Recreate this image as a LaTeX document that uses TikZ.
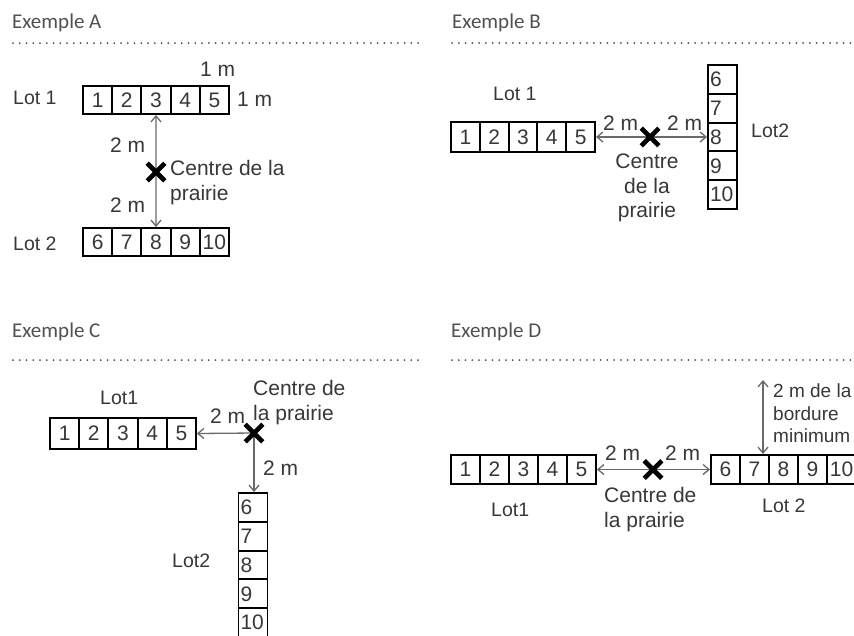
\documentclass[tikz,border=0pt]{standalone}
\usepackage{fontspec}
\setmainfont{Liberation Sans}
\newfontfamily\hdfont{Carlito}
\usetikzlibrary{arrows.meta,shapes.misc}
\definecolor{txt}{HTML}{383838}
\definecolor{arrc}{HTML}{6A6A6A}
\definecolor{hdc}{HTML}{505050}
\begin{document}
\begin{tikzpicture}[x=1pt,y=-1pt,
 cell/.style={draw=black,line width=1.9pt,minimum width=29pt,minimum height=29pt,inner sep=0pt,font=\fontsize{21}{21}\selectfont,text=txt},
 vcell/.style={cell,text width=25pt,inner xsep=2pt,align=left},
 lbl/.style={anchor=base west,inner sep=0pt,font=\fontsize{21}{24}\selectfont,text=txt},
 lotlbl/.style={lbl,font=\fontsize{19.5}{22}\selectfont},
 clbl/.style={anchor=base,inner sep=0pt,font=\fontsize{21}{24}\selectfont,text=txt},
 hd/.style={anchor=base west,inner sep=0pt,font=\hdfont\fontsize{21}{23}\selectfont,text=hdc},
 arr/.style={draw=arrc,line width=1.3pt,{Straight Barb[length=6pt,width=10pt]}-{Straight Barb[length=6pt,width=10pt]}},
 xmark/.style={cross out,draw=black,line width=4.6pt,minimum size=13pt,inner sep=0pt},
 dotline/.style={draw=hdc,line width=2pt,line cap=round,dash pattern=on 0pt off 6.75pt}]
\useasboundingbox (0,0) rectangle (854,635);
\clip (0,0) rectangle (854,635);
\fill[white] (0,0) rectangle (854,635);
% headers
\node[hd] (hA) at (12,28) {Exemple A};
\node[hd] (hB) at (452,28) {Exemple B};
\node[hd] (hC) at (12,337) {Exemple C};
\node[hd] (hD) at (451,337) {Exemple D};
\coordinate (lA1) at (13,43); \coordinate (lA2) at (420,43);
\coordinate (lB1) at (452,43); \coordinate (lB2) at (856,43);
\coordinate (lC1) at (13,360); \coordinate (lC2) at (420,360);
\coordinate (lD1) at (452,360); \coordinate (lD2) at (856,360);
\draw[dotline] (lA1) -- (lA2);
\draw[dotline] (lB1) -- (lB2);
\draw[dotline] (lC1) -- (lC2);
\draw[dotline] (lD1) -- (lD2);
% ---------- Exemple A
\foreach \i in {1,...,5}
  \node[cell,minimum width=29.2pt,minimum height=28pt] (a1\i) at ({83+29.2*(\i-0.5)},100) {\i};
\foreach \i/\n in {1/6,2/7,3/8,4/9,5/10}
  \node[cell,minimum width=29.2pt,minimum height=28pt] (a2\i) at ({83+29.2*(\i-0.5)},242) {\n};
\coordinate (ca) at (156,172);
\draw[arr] (a13.south) -- (ca);
\draw[arr] (ca) -- (a23.north);
\node[xmark] (xa) at (ca) {};
\node[lotlbl] (lotA1) at (13,104) {Lot 1};
\node[lotlbl] (lotA2) at (13,250) {Lot 2};
\node[lbl] (mA1) at (200,76) {1 m};
\node[lbl] (mA2) at (237,106) {1 m};
\node[lbl] (mA3) at (110,152) {2 m};
\node[lbl] (mA4) at (110,212) {2 m};
\node[lbl] (cA1) at (170,175) {Centre de la};
\node[lbl] (cA2) at (170,200) {prairie};
% ---------- Exemple B
\foreach \i in {1,...,5}
  \node[cell,minimum width=28.8pt,minimum height=30pt] (b1\i) at ({451+28.8*(\i-0.5)},137) {\i};
\foreach \i/\n in {1/6,2/7,3/8,4/9,5/10}
  \node[vcell,minimum height=28.8pt] (b2\i) at (722.5,{65+28.8*(\i-0.5)}) {\n};
\coordinate (cb) at (650,137);
\draw[arr] (b15.east) -- (cb);
\draw[arr] (cb) -- (b23.west);
\node[xmark] (xb) at (cb) {};
\node[lotlbl] (lotB1) at (493,100) {Lot 1};
\node[lotlbl] (lotB2) at (751,137) {Lot2};
\node[lbl] (mB1) at (603,130) {2 m};
\node[lbl] (mB2) at (667,130) {2 m};
\node[clbl] (cB1) at (647,168) {Centre};
\node[clbl] (cB2) at (647,193) {de la};
\node[clbl] (cB3) at (647,217) {prairie};
% ---------- Exemple C
\foreach \i in {1,...,5}
  \node[cell,minimum width=29.2pt,minimum height=31pt] (c1\i) at ({50+29.2*(\i-0.5)},433.5) {\i};
\foreach \i/\n in {1/6,2/7,3/8,4/9,5/10}
  \node[vcell,minimum height=28.8pt] (c2\i) at (253,{493+28.8*(\i-0.5)}) {\n};
\coordinate (cc) at (254,433);
\draw[arr] (c15.east) -- (cc);
\draw[arr] (cc) -- (cc |- c21.north);
\node[xmark] (xc) at (cc) {};
\node[lotlbl] (lotC1) at (100,404) {Lot1};
\node[lotlbl] (lotC2) at (172,567) {Lot2};
\node[lbl] (mC1) at (210,423) {2 m};
\node[lbl] (mC2) at (263,475) {2 m};
\node[lbl] (cC1) at (253,395) {Centre de};
\node[lbl] (cC2) at (253,420) {la prairie};
% ---------- Exemple D
\foreach \i in {1,...,5}
  \node[cell,minimum width=29pt,minimum height=29pt] (d1\i) at ({451+29*(\i-0.5)},469.5) {\i};
\foreach \i/\n in {1/6,2/7,3/8,4/9,5/10}
  \node[cell,minimum width=29pt,minimum height=29pt] (d2\i) at ({711+29*(\i-0.5)},469.5) {\n};
\coordinate (cd) at (653,469.5);
\draw[arr] (d15.east) -- (cd);
\draw[arr] (cd) -- (d21.west);
\node[xmark] (xd) at (cd) {};
\coordinate (dtop) at (763,380);
\draw[arr] (dtop) -- (dtop |- d22.north);
\node[lotlbl] (lotD1) at (491,516) {Lot1};
\node[lotlbl] (lotD2) at (762,512) {Lot 2};
\node[lbl] (mD1) at (605,460) {2 m};
\node[lbl] (mD2) at (665,460) {2 m};
\node[lbl] (cD1) at (604,502) {Centre de};
\node[lbl] (cD2) at (604,527) {la prairie};
\node[lbl,font=\fontsize{19}{22}\selectfont] (bD1) at (773,397) {2 m de la};
\node[lbl,font=\fontsize{19}{22}\selectfont] (bD2) at (773,420) {bordure};
\node[lbl,font=\fontsize{19}{22}\selectfont] (bD3) at (773,442) {minimum};
\end{tikzpicture}
\end{document}
